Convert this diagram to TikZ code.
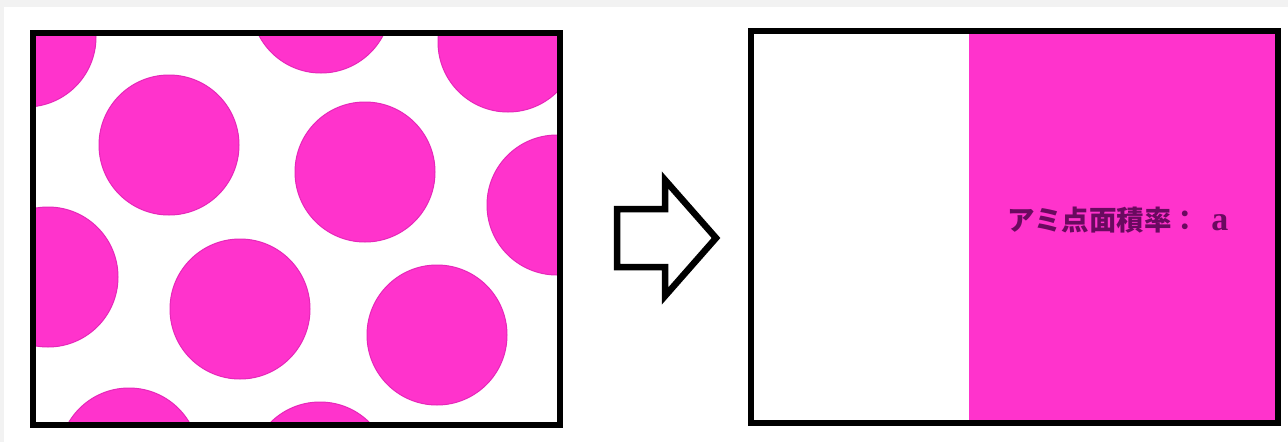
\documentclass[tikz,border=0pt]{standalone}
\usepackage{fontspec}
\newfontfamily\jpfont{Noto Sans CJK JP}
\newfontfamily\latfont{Liberation Serif}
\definecolor{dotmag}{RGB}{255,51,204}
\definecolor{dotedge}{RGB}{230,40,185}
\definecolor{bggray}{RGB}{242,242,242}
\definecolor{labeltext}{RGB}{105,10,95}
\tikzset{
  frame/.style={draw=black, line width=6.5pt, line join=miter},
  dot/.style={fill=dotmag, draw=dotedge, line width=1pt},
  magfill/.style={fill=dotmag},
  label text/.style={text=labeltext, font=\jpfont\bfseries\fontsize{27.5}{31}\selectfont, inner sep=0pt}
}
\begin{document}
\begin{tikzpicture}[x=1pt,y=-1pt]
\useasboundingbox (0,0) rectangle (1288,442);
\fill[bggray] (0,0) rectangle (1288,442);
\fill[white] (4,7) rectangle (1288,442);
% left panel: halftone dots
\begin{scope}
  \clip (33,33) rectangle (560,425);
  \foreach \cx/\cy in {26/37, 321/3, 508/42, 169/145, 365/172, 557/205, 48/277, 240/309, 437/335, 129/458, 320/472}
    \path[dot] (\cx,\cy) circle[radius=70pt];
\end{scope}
\draw[frame] (33,33) rectangle (560,425);
% arrow
\draw[frame] (617,209) -- (665,209) -- (665,180) -- (716,238) -- (665,296) -- (665,267) -- (617,267) -- cycle;
% right panel
\fill[magfill] (969,31) rectangle (1278,423);
\draw[frame] (751,31) rectangle (1278,423);
\node[label text] (rate) at (1118,220) {アミ点面積率：\hspace{12pt}{\latfont\bfseries\fontsize{34}{36}\selectfont a}};
\end{tikzpicture}
\end{document}
